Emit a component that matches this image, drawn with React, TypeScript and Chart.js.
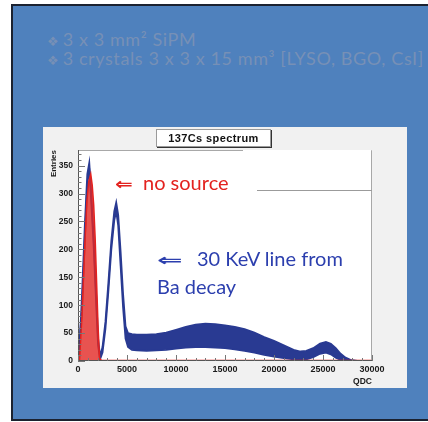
import React, { useEffect, useRef } from 'react';
import { Chart, registerables } from 'chart.js';

Chart.register(...registerables);

// ---------- text ----------
const SLIDE_LINES = ['3 x 3 mm² SiPM', '3 crystals 3 x 3 x 15 mm³ [LYSO, BGO, CsI]'];
const CHART_TITLE = '137Cs spectrum';
const X_TITLE = 'QDC';
const Y_TITLE = 'Entries';
const NOTE_RED = 'no source';
const NOTE_BLUE_1 = '30 KeV line from';
const NOTE_BLUE_2 = 'Ba decay';

// ---------- axes ----------
const X_MIN = 0;
const X_MAX = 30000;
const X_TICKS = [0, 5000, 10000, 15000, 20000, 25000, 30000];
const X_MINOR = 1000;
const Y_MIN = 0;
const Y_MAX = 378;
const Y_TICKS = [0, 50, 100, 150, 200, 250, 300, 350];
const Y_MINOR = 10;

// ---------- 137Cs source spectrum (blue band: upper / lower envelope) ----------
const BLUE_QDC = [
  0, 100, 400, 700, 950, 1150, 1350, 1600, 1850, 2050, 2250, 2500, 2800, 3100, 3400, 3700, 3900,
  4100, 4350, 4600, 4850, 5100, 5500, 6000, 7000, 8000, 9000, 10000, 11000, 12000, 13000, 14000,
  15000, 16000, 17000, 18000, 19000, 20000, 21000, 22000, 22700, 23300, 24000, 24700, 25300,
  25800, 26300, 26800, 27300, 27800, 28500, 30000,
];
const BLUE_UPPER = [
  0, 2, 115, 245, 335, 355, 300, 220, 120, 40, 8, 25, 70, 140, 215, 268, 284,
  262, 195, 120, 62, 50, 48, 47, 47, 48, 51, 56, 61, 65, 67, 66,
  64, 61, 57, 51, 43, 36, 28, 20, 17, 18, 23, 31, 34,
  31, 23, 13, 6, 2, 0, 0,
];
const BLUE_LOWER = [
  0, 0, 90, 220, 315, 345, 285, 205, 105, 28, 3, 15, 58, 125, 200, 252, 268,
  243, 170, 96, 40, 25, 20, 19, 18, 19, 20, 22, 24, 25, 25, 24,
  23, 21, 18, 15, 11, 8, 5, 3, 2, 3, 7, 13, 15,
  12, 6, 2, 0, 0, 0, 0,
];

// ---------- no-source spectrum (red) ----------
const RED_QDC = [0, 150, 400, 700, 900, 1100, 1300, 1450, 1600, 1750, 1900, 2050, 2200, 2400, 30000];
const RED_COUNTS = [0, 0, 80, 210, 285, 322, 335, 315, 280, 220, 140, 60, 5, 1, 1];

const BLUE = '#293a92';
const RED = '#e3221f';

const toPoints = (xs: number[], ys: number[]) => xs.map((x, i) => ({ x, y: ys[i] }));

const rootFrame = {
  id: 'rootFrame',
  beforeDraw(chart: any) {
    const { ctx, chartArea: a } = chart;
    ctx.save();
    ctx.fillStyle = '#ffffff';
    ctx.fillRect(a.left, a.top, a.right - a.left, a.bottom - a.top);
    ctx.restore();
  },
  afterDatasetsDraw(chart: any) {
    const { ctx, chartArea: a, scales } = chart;
    const xs = scales.x;
    const ys = scales.y;
    ctx.save();
    ctx.lineWidth = 1;
    ctx.strokeStyle = '#a8a8a8';
    ctx.beginPath();
    ctx.moveTo(a.left, a.top + 0.5);
    ctx.lineTo(a.right - 0.5, a.top + 0.5);
    ctx.lineTo(a.right - 0.5, a.bottom);
    ctx.stroke();
    ctx.strokeStyle = '#555555';
    ctx.beginPath();
    ctx.moveTo(a.left + 0.5, a.top);
    ctx.lineTo(a.left + 0.5, a.bottom - 0.5);
    ctx.lineTo(a.right, a.bottom - 0.5);
    ctx.stroke();
    ctx.strokeStyle = '#777777';
    ctx.beginPath();
    for (let v = X_MIN; v <= X_MAX; v += X_MINOR) {
      const px = Math.round(xs.getPixelForValue(v)) + 0.5;
      const len = X_TICKS.includes(v) ? 6 : 3;
      ctx.moveTo(px, a.bottom);
      ctx.lineTo(px, a.bottom - len);
    }
    for (let v = Y_MIN; v <= Y_MAX; v += Y_MINOR) {
      const py = Math.round(ys.getPixelForValue(v)) + 0.5;
      const len = Y_TICKS.includes(v) ? 7 : 3.5;
      ctx.moveTo(a.left, py);
      ctx.lineTo(a.left + len, py);
    }
    ctx.stroke();
    ctx.restore();
  },
};

function Spectrum() {
  const ref = useRef<HTMLCanvasElement | null>(null);
  useEffect(() => {
    if (!ref.current) return;
    const chart = new Chart(ref.current, {
      type: 'line',
      data: {
        datasets: [
          {
            label: 'no source',
            data: toPoints(RED_QDC, RED_COUNTS),
            borderColor: RED,
            backgroundColor: 'rgba(226,40,36,0.8)',
            borderWidth: 1.5,
            fill: 'origin',
            pointRadius: 0,
            tension: 0,
            order: 0,
          },
          {
            label: 'upper',
            data: toPoints(BLUE_QDC, BLUE_UPPER),
            borderColor: BLUE,
            borderWidth: 1.8,
            fill: false,
            pointRadius: 0,
            tension: 0,
            order: 1,
          },
          {
            label: 'lower',
            data: toPoints(BLUE_QDC, BLUE_LOWER),
            borderColor: BLUE,
            backgroundColor: BLUE,
            borderWidth: 1.8,
            fill: '-1',
            pointRadius: 0,
            tension: 0,
            order: 2,
          },
        ],
      },
      options: {
        animation: false,
        responsive: false,
        events: [],
        layout: { padding: { left: 0, right: 35, top: 23, bottom: 0 } },
        plugins: { legend: { display: false }, tooltip: { enabled: false }, title: { display: false } },
        scales: {
          x: {
            type: 'linear',
            min: X_MIN,
            max: X_MAX,
            afterBuildTicks: (s: any) => { s.ticks = X_TICKS.map((value) => ({ value })); },
            afterFit: (s: any) => { s.height = 27; },
            grid: { display: false, drawTicks: false },
            border: { display: false },
            ticks: {
              autoSkip: false,
              maxRotation: 0,
              padding: 3,
              color: '#1a1a1a',
              font: { family: 'Liberation Sans', size: 9, weight: 'bold' },
              callback: (v: any) => String(v),
            },
            title: {
              display: true,
              text: X_TITLE,
              align: 'end',
              color: '#1a1a1a',
              padding: { top: 0, bottom: 1 },
              font: { family: 'Liberation Sans', size: 8.5, weight: 'bold' },
            },
          },
          y: {
            type: 'linear',
            min: Y_MIN,
            max: Y_MAX,
            afterBuildTicks: (s: any) => { s.ticks = Y_TICKS.map((value) => ({ value })); },
            afterFit: (s: any) => { s.width = 35; },
            grid: { display: false, drawTicks: false },
            border: { display: false },
            ticks: {
              autoSkip: false,
              padding: 5,
              color: '#1a1a1a',
              font: { family: 'Liberation Sans', size: 8.5, weight: 'bold' },
              callback: (v: any) => String(v),
            },
            title: {
              display: true,
              text: Y_TITLE,
              align: 'end',
              color: '#1a1a1a',
              padding: { top: 6, bottom: 0 },
              font: { family: 'Liberation Sans', size: 8, weight: 'bold' },
            },
          },
        },
      },
      plugins: [rootFrame],
    } as any);
    return () => chart.destroy();
  }, []);
  return (
    <canvas
      ref={ref}
      width={364}
      height={261}
      style={{ position: 'absolute', left: 43, top: 127, width: 364, height: 261, background: '#f1f1f1' }}
    />
  );
}

export default function App() {
  const slideFont = 'Lato, "Open Sans", sans-serif';
  return (
    <div
      style={{
        position: 'fixed',
        left: 0,
        top: 0,
        width: 428,
        height: 422,
        overflow: 'hidden',
        background: '#ffffff',
      }}
    >
      <div
        style={{
          position: 'absolute',
          left: 11,
          top: 4,
          width: 430,
          height: 417,
          background: '#4f81bd',
          borderTop: '2px solid #1b2230',
          borderLeft: '2px solid #1b2230',
          borderBottom: '2px solid #1b2230',
          boxSizing: 'border-box',
        }}
      />
      {SLIDE_LINES.map((t, i) => (
        <div
          key={i}
          style={{
            position: 'absolute',
            left: 47,
            top: 28 + i * 19,
            whiteSpace: 'nowrap',
            color: '#7790b6',
            fontFamily: slideFont,
            fontSize: 18,
            letterSpacing: 0.6,
            lineHeight: '22px',
          }}
        >
          <span style={{ fontFamily: 'DejaVu Sans', fontSize: 13, marginRight: 4, letterSpacing: 0 }}>❖</span>
          {t}
        </div>
      ))}
      <Spectrum />
      <div
        style={{
          position: 'absolute',
          left: 156,
          top: 129,
          width: 115,
          height: 18,
          background: '#ffffff',
          border: '1px solid #9a9a9a',
          boxShadow: '1px 1px 0 #333',
          boxSizing: 'border-box',
          textAlign: 'center',
          fontFamily: 'Liberation Sans',
          fontWeight: 'bold',
          fontSize: 11,
          lineHeight: '16px',
          color: '#111',
          letterSpacing: 0.4,
        }}
      >
        {CHART_TITLE}
      </div>
      <div
        style={{
          position: 'absolute',
          left: 243,
          top: 150,
          width: 128,
          height: 40,
          background: '#ffffff',
        }}
      />
      <div style={{ position: 'absolute', left: 257, top: 190, width: 115, height: 1, background: '#9b9b9b' }} />
      <div
        style={{
          position: 'absolute',
          left: 115,
          top: 170,
          whiteSpace: 'nowrap',
          color: RED,
          fontFamily: slideFont,
          fontSize: 20,
          lineHeight: '25px',
        }}
      >
        <span style={{ display: 'inline-block', fontFamily: 'DejaVu Sans', fontWeight: 'bold', fontSize: 17, transform: 'scaleX(1.25)', transformOrigin: 'left center', width: 28 }}>⇐</span>
        {NOTE_RED}
      </div>
      <div
        style={{
          position: 'absolute',
          left: 157,
          top: 245,
          whiteSpace: 'nowrap',
          color: '#2c3fae',
          fontFamily: slideFont,
          fontSize: 20,
          lineHeight: '26px',
        }}
      >
        <span style={{ display: 'inline-block', fontFamily: 'DejaVu Sans', fontWeight: 'bold', fontSize: 17, transform: 'scaleX(1.8)', transformOrigin: 'left center', width: 40 }}>⇐</span>
        {NOTE_BLUE_1}
        <br />
        {NOTE_BLUE_2}
      </div>
    </div>
  );
}
